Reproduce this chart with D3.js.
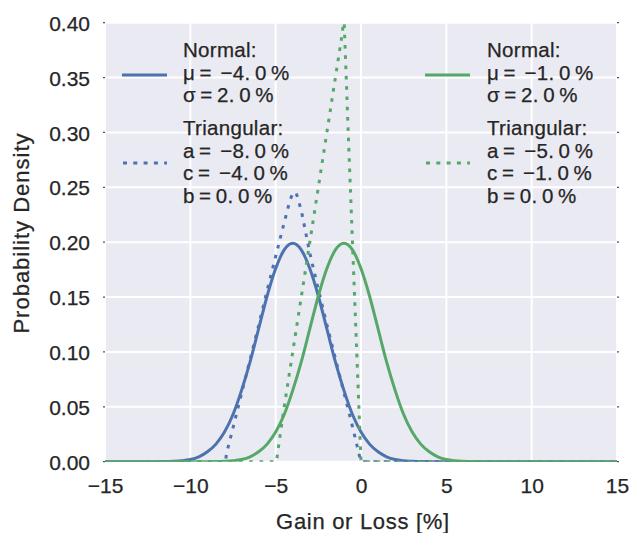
<!DOCTYPE html>
<html>
<head>
<meta charset="utf-8">
<script src="https://cdn.jsdelivr.net/npm/d3@7"></script>
<style>
  body { margin: 0; background: #fff; }
  text { font-family: "Liberation Sans", Arial, sans-serif; fill: #262626; stroke: #262626; stroke-width: 0.25px; }
</style>
</head>
<body>
<script>
// values
const xTicks = [-15, -10, -5, 0, 5, 10, 15]
const yTicks = [0, 0.05, 0.10, 0.15, 0.20, 0.25, 0.30, 0.35, 0.40]

// normal, mu = -4 %, sigma = 2 %
const blueNormalX = [-15, -12, -11.5, -11, -10.5, -10, -9.5, -9, -8.5, -8, -7.5, -7, -6.5, -6, -5.5, -5, -4.5, -4,
    -3.5, -3, -2.5, -2, -1.5, -1, -0.5, 0, 0.5, 1, 1.5, 2, 2.5, 3, 3.5, 4, 15]
const blueNormalY = [0, 0, 0.0001, 0.0004, 0.0009, 0.002, 0.0045, 0.009, 0.016, 0.027, 0.043, 0.065, 0.091, 0.121, 0.151, 0.176, 0.193, 0.199,
    0.193, 0.176, 0.151, 0.121, 0.091, 0.065, 0.043, 0.027, 0.016, 0.009, 0.0045, 0.002, 0.0009, 0.0004, 0.0001, 0, 0]

// normal, mu = -1 %, sigma = 2 %
const greenNormalX = [-15, -9, -8.5, -8, -7.5, -7, -6.5, -6, -5.5, -5, -4.5, -4, -3.5, -3, -2.5, -2, -1.5, -1,
    -0.5, 0, 0.5, 1, 1.5, 2, 2.5, 3, 3.5, 4, 4.5, 5, 5.5, 6, 6.5, 7, 15]
const greenNormalY = [0, 0, 0.0001, 0.0004, 0.0009, 0.002, 0.0045, 0.009, 0.016, 0.027, 0.043, 0.065, 0.091, 0.121, 0.151, 0.176, 0.193, 0.199,
    0.193, 0.176, 0.151, 0.121, 0.091, 0.065, 0.043, 0.027, 0.016, 0.009, 0.0045, 0.002, 0.0009, 0.0004, 0.0001, 0, 0]

// triangular, a = -8, c = -4, b = 0
const blueTriX = [-15, -7.95, -7.87, -7.4, -7, -6.5, -6, -5.5, -5, -4.5, -4.2, -4, -3.8, -3.5, -3, -2.5, -2, -1.5, -1, -0.5, -0.1, 0, 15]
const blueTriY = [0, 0, 0.008, 0.037, 0.062, 0.093, 0.124, 0.156, 0.187, 0.218, 0.236, 0.245, 0.245, 0.229, 0.19, 0.157, 0.125, 0.094, 0.063, 0.032, 0.006, 0, 0]

// triangular, a = -5, c = -1, b = 0
const greenTriX = [-15, -4.95, -4.85, -4.5, -4, -3.5, -3, -2.5, -2, -1.5, -1.1, -1, -0.9, -0.75, -0.5, -0.25, -0.05, 0, 15]
const greenTriY = [0, 0, 0.012, 0.05, 0.1, 0.15, 0.2, 0.25, 0.3, 0.35, 0.39, 0.405, 0.365, 0.3, 0.2, 0.1, 0.02, 0, 0]

const legendLeft = [["Normal:", "μ\u2009=\u2009\u2009−4.\u20090\u2009%", "σ\u2009=\u20092.\u20090\u2009%"],
    ["Triangular:", "a\u2009=\u2009\u2009−8.\u20090\u2009%", "c\u2009=\u2009\u2009−4.\u20090\u2009%", "b\u2009=\u20090.\u20090\u2009%"]]
const legendRight = [["Normal:", "μ\u2009=\u2009\u2009−1.\u20090\u2009%", "σ\u2009=\u20092.\u20090\u2009%"],
    ["Triangular:", "a\u2009=\u2009\u2009−5.\u20090\u2009%", "c\u2009=\u2009\u2009−1.\u20090\u2009%", "b\u2009=\u20090.\u20090\u2009%"]]

const blue = '#4C72B0'
const green = '#55A868'

const width = 633, height = 533
const margin = {top: 22.7, right: 16, bottom: 71.3, left: 105}

const svg = d3.select('body').append('svg')
    .attr('width', width)
    .attr('height', height)

const x = d3.scaleLinear().domain([-15, 15]).range([margin.left, width - margin.right])
const y = d3.scaleLinear().domain([0, 0.4]).range([height - margin.bottom, margin.top])

svg.append('defs').append('clipPath').attr('id', 'plot')
    .append('rect')
    .attr('x', x(-15)).attr('y', y(0.4))
    .attr('width', x(15) - x(-15)).attr('height', y(0) - y(0.4))

svg.append('rect')
    .attr('x', x(-15)).attr('y', y(0.4))
    .attr('width', x(15) - x(-15)).attr('height', y(0) - y(0.4))
    .attr('fill', '#EAEAF2')

// grid
svg.append('g').selectAll('line').data(xTicks).join('line')
    .attr('x1', d => x(d)).attr('x2', d => x(d))
    .attr('y1', y(0)).attr('y2', y(0.4))
    .attr('stroke', '#fff').attr('stroke-width', 2)
svg.append('g').selectAll('line').data(yTicks).join('line')
    .attr('x1', x(-15)).attr('x2', x(15))
    .attr('y1', d => y(d)).attr('y2', d => y(d))
    .attr('stroke', '#fff').attr('stroke-width', 2)

// axes (no tick lines, just labels)
const xAxis = svg.append('g')
    .attr('transform', `translate(0,${y(0)})`)
    .call(d3.axisBottom(x).tickValues(xTicks).tickSize(0).tickPadding(16).tickFormat(d => d3.format('')(d).replace('-', '−')))
const yAxis = svg.append('g')
    .attr('transform', `translate(${x(-15)},0)`)
    .call(d3.axisLeft(y).tickValues(yTicks).tickSize(0).tickPadding(15).tickFormat(d3.format('.2f')))
for (const ax of [xAxis, yAxis]) {
    ax.select('.domain').remove()
    ax.selectAll('text').attr('font-size', 21).attr('font-family', '"Liberation Sans", Arial, sans-serif').attr('fill', '#262626')
}
yAxis.selectAll('text').attr('dy', '0.36em')

// small tick nubs on left and right
svg.append('g').selectAll('line').data(yTicks).join('line')
    .attr('x1', x(-15) - 2).attr('x2', x(-15))
    .attr('y1', d => y(d)).attr('y2', d => y(d))
    .attr('stroke', '#555').attr('stroke-width', 1.2)
svg.append('g').selectAll('line').data(yTicks).join('line')
    .attr('x1', x(15)).attr('x2', x(15) + 2)
    .attr('y1', d => y(d)).attr('y2', d => y(d))
    .attr('stroke', '#555').attr('stroke-width', 1.2)

svg.append('text')
    .attr('x', (x(-15) + x(15)) / 2 + 2)
    .attr('y', 529)
    .attr('text-anchor', 'middle')
    .attr('font-size', 22)
    .attr('letter-spacing', 0.7)
    .text('Gain or Loss [%]')
svg.append('text')
    .attr('transform', `translate(29,${233}) rotate(-90)`)
    .attr('text-anchor', 'middle')
    .attr('font-size', 22)
    .attr('letter-spacing', 1)
    .text('Probability Density')

// curves
const zip = (xs, ys) => xs.map((d, i) => [d, ys[i]])
const smooth = d3.line().x(d => x(d[0])).y(d => y(d[1])).curve(d3.curveMonotoneX)
const straight = d3.line().x(d => x(d[0])).y(d => y(d[1]))

const series = [
    {data: zip(blueNormalX, blueNormalY), color: blue, dotted: false},
    {data: zip(blueTriX, blueTriY), color: blue, dotted: true},
    {data: zip(greenNormalX, greenNormalY), color: green, dotted: false},
    {data: zip(greenTriX, greenTriY), color: green, dotted: true},
]

const plot = svg.append('g').attr('clip-path', 'url(#plot)')
plot.selectAll('path').data(series).join('path')
    .attr('d', d => d.dotted ? straight(d.data) : smooth(d.data))
    .attr('fill', 'none')
    .attr('stroke', d => d.color)
    .attr('stroke-width', 3)
    .attr('stroke-dasharray', d => d.dotted ? '3.6,6.7' : null)
    .attr('stroke-linejoin', 'round')

// legends
function legend(x0, textX, blocks, color) {
    const g = svg.append('g')
    const lineH = 22.6
    const blockY = [57, 135]
    blocks.forEach((lines, bi) => {
        lines.forEach((t, li) => {
            g.append('text')
                .attr('x', textX)
                .attr('y', blockY[bi] + li * lineH)
                .attr('font-size', 20.5)
                .attr('letter-spacing', 0.3)
                .text(t)
        })
    })
    g.append('line')
        .attr('x1', x0).attr('x2', x0 + 45)
        .attr('y1', 75).attr('y2', 75)
        .attr('stroke', color).attr('stroke-width', 3)
    g.append('line')
        .attr('x1', x0 + 1).attr('x2', x0 + 45)
        .attr('y1', 163).attr('y2', 163)
        .attr('stroke', color).attr('stroke-width', 3)
        .attr('stroke-dasharray', '4,6.3')
}
legend(122, 183, legendLeft, blue)
legend(425, 487, legendRight, green)
</script>
</body>
</html>
